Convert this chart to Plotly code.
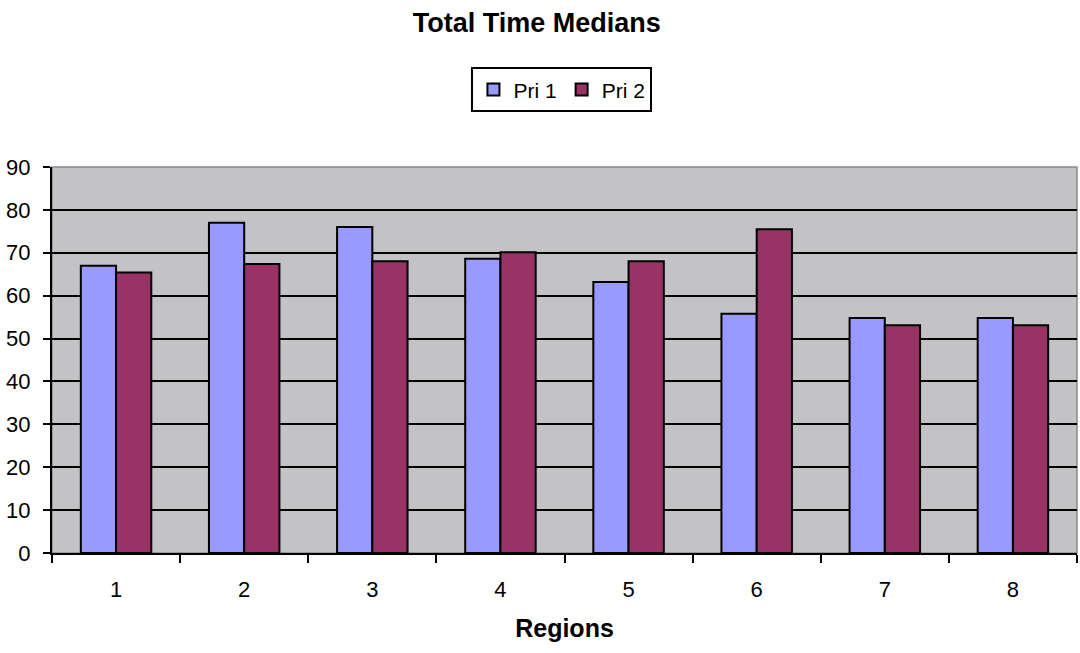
import plotly.graph_objects as go

regions = ["1", "2", "3", "4", "5", "6", "7", "8"]
pri1 = [67, 77, 76, 68.6, 63.2, 55.8, 54.8, 54.8]
pri2 = [65.4, 67.4, 68, 70.1, 68, 75.5, 53.1, 53.1]
y_ticks = [0, 10, 20, 30, 40, 50, 60, 70, 80, 90]

FONT = "Liberation Sans, Arial, sans-serif"

fig = go.Figure()
fig.add_trace(go.Bar(name="Pri 1", x=regions, y=pri1, marker=dict(color="#9999FF", line=dict(color="black", width=2))))
fig.add_trace(go.Bar(name="Pri 2", x=regions, y=pri2, marker=dict(color="#993366", line=dict(color="black", width=2))))

fig.update_layout(
    width=1080, height=653,
    margin=dict(l=52, r=3, t=167, b=100),
    paper_bgcolor="white",
    plot_bgcolor="#C3C2C5",
    barmode="group",
    bargap=0.45,
    bargroupgap=0,
    font=dict(family=FONT, size=22, color="black"),
    title=dict(text="<b>Total Time Medians</b>", x=0.497, xanchor="center", y=0.966, yanchor="middle",
               font=dict(family=FONT, size=27, color="black")),
    legend=dict(orientation="h", x=0.4975, xanchor="center", y=1.258, yanchor="top",
                bordercolor="black", borderwidth=2, bgcolor="white",
                font=dict(family=FONT, size=21), itemwidth=30, tracegroupgap=0),
    showlegend=True,
)
fig.update_xaxes(
    type="category", showline=True, linecolor="black", linewidth=2,
    ticks="outside", tickson="boundaries", ticklen=8, tickcolor="black", tickwidth=2,
    ticklabelstandoff=16,
    title=dict(text="<b>Regions</b>", font=dict(family=FONT, size=25), standoff=18),
    showgrid=False,
)
fig.update_yaxes(
    range=[0, 90], tickvals=y_ticks, showline=True, linecolor="black", linewidth=2,
    ticks="outside", ticklen=7, tickcolor="black", tickwidth=2, ticklabelstandoff=8,
    showgrid=True, gridcolor="black", gridwidth=2, zeroline=False,
)
fig.add_shape(type="rect", xref="paper", yref="paper", x0=0, x1=1, y0=0, y1=1,
              line=dict(color="#8A8A8A", width=1.5), layer="below")
fig.write_html("out.html")
